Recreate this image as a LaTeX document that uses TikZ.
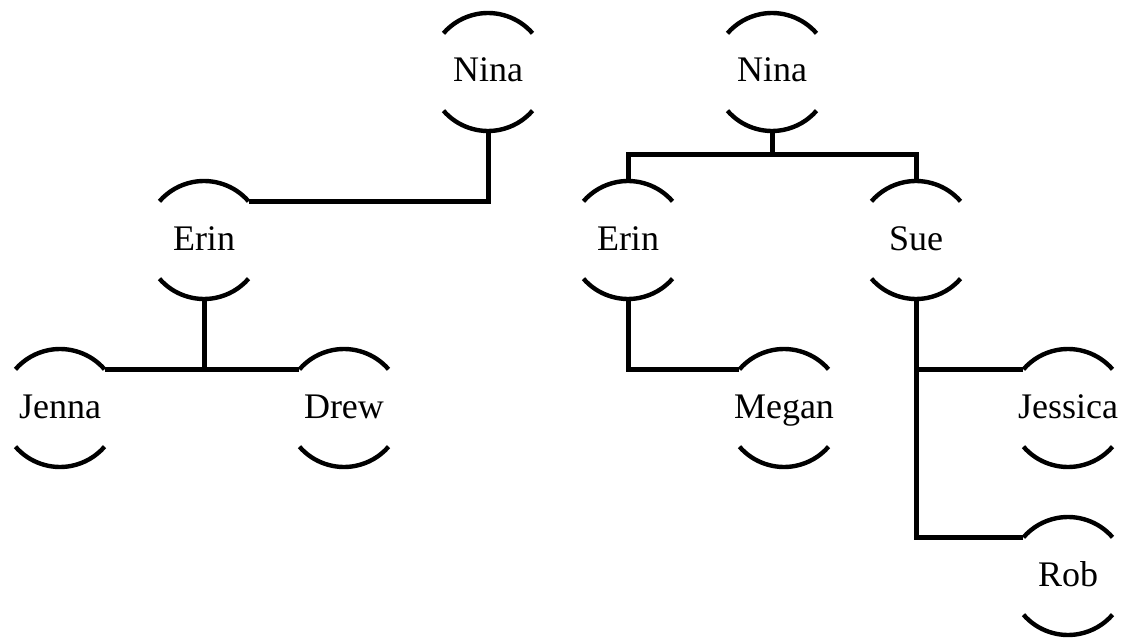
\documentclass[tikz,border=0pt]{standalone}
\usepackage{fontspec}
\setmainfont{Liberation Serif}
\begin{document}
\begin{tikzpicture}[x=0.5pt,y=-0.5pt,
  person/.style={circle,inner sep=0pt,outer sep=0pt,minimum size=59pt,
    text height=10pt,text depth=0pt,
    font=\fontsize{18}{20}\selectfont},
  link/.style={line width=2.5pt,line join=miter},
  rim/.style={line width=2.2pt}]
\useasboundingbox (0,0) rectangle (1126,642);
% left tree
\node[person] (ninaL) at (488,72) {Nina};
\node[person] (erinL) at (204,240) {Erin};
\node[person] (jenna) at (60,408) {Jenna};
\node[person] (drew) at (344,408) {Drew};
% right tree
\node[person] (ninaR) at (772,72) {Nina};
\node[person] (erinR) at (628,240) {Erin};
\node[person] (sue) at (916,240) {Sue};
\node[person] (megan) at (784,408) {Megan};
\node[person] (jessica) at (1068,408) {Jessica};
\node[person] (rob) at (1068,576) {Rob};
% upper and lower rims of every person
\foreach \n in {ninaL,erinL,jenna,drew,ninaR,erinR,sue,megan,jessica,rob}{
  \draw[rim] (\n.41) arc[start angle=41,end angle=139,radius=29.5pt];
  \draw[rim] (\n.221) arc[start angle=221,end angle=319,radius=29.5pt];
}
% connectors, left tree
\draw[link] (erinL.41) -| (ninaL.south);
\draw[link] (jenna.41) -- (drew.139);
\draw[link] (erinL.south) -- (erinL.south |- jenna.41);
% connectors, right tree
\coordinate (bar) at ([yshift=-12pt]ninaR.south);
\draw[link] (ninaR.south) -- (bar);
\draw[link] (erinR.north) |- (bar) -| (sue.north);
\draw[link] (erinR.south) |- (megan.139);
\draw[link] (sue.south) |- (rob.139);
\draw[link] (sue.south |- jessica.139) -- (jessica.139);
\end{tikzpicture}
\end{document}
